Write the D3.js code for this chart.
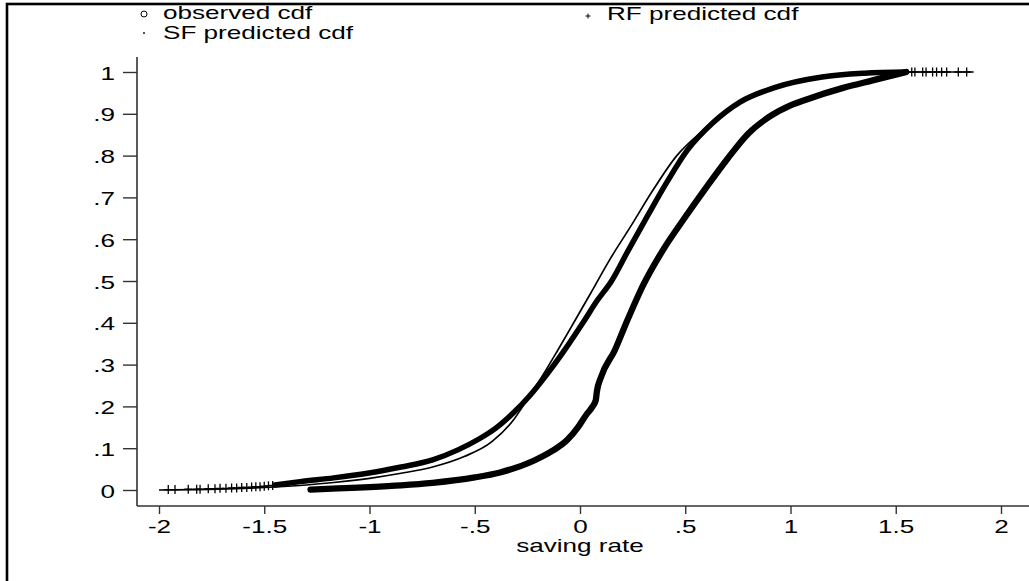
<!DOCTYPE html>
<html>
<head>
<meta charset="utf-8">
<script src="https://cdn.jsdelivr.net/npm/d3@7"></script>
<style>
  html, body { margin: 0; padding: 0; background: #fff; }
  svg { display: block; }
  text { font-family: "Liberation Sans", Arial, sans-serif; fill: #000; }
</style>
</head>
<body>
<svg id="chart" width="1029" height="581"></svg>
<script>
// ---------------- data ----------------
const xTickValues = [-2, -1.5, -1, -0.5, 0, 0.5, 1, 1.5, 2];
const xTickLabels = ["-2", "-1.5", "-1", "-.5", "0", ".5", "1", "1.5", "2"];
const yTickValues = [0, 0.1, 0.2, 0.3, 0.4, 0.5, 0.6, 0.7, 0.8, 0.9, 1];
const yTickLabels = ["0", ".1", ".2", ".3", ".4", ".5", ".6", ".7", ".8", ".9", "1"];
const seriesNames = ["observed cdf", "RF predicted cdf", "SF predicted cdf"];
const xTitle = "saving rate";

// observed cdf (circles)
const obsX = [-1.28, -1.15, -1.0, -0.85, -0.7, -0.5, -0.38, -0.22, -0.13, -0.06, -0.01, 0.03, 0.06, 0.075, 0.08, 0.1, 0.166, 0.22, 0.3, 0.394, 0.5, 0.6, 0.7, 0.8, 0.9, 1.0, 1.08, 1.25, 1.39, 1.55];
const obsY = [0.001, 0.004, 0.007, 0.011, 0.017, 0.03, 0.042, 0.07, 0.094, 0.12, 0.15, 0.18, 0.2, 0.215, 0.235, 0.27, 0.335, 0.4, 0.49, 0.574, 0.653, 0.724, 0.792, 0.853, 0.893, 0.92, 0.935, 0.962, 0.98, 1.0];

// RF predicted cdf (plus) - dense part
const rfX = [-1.45, -1.33, -1.17, -1.01, -0.85, -0.70, -0.58, -0.48, -0.40, -0.32, -0.24, -0.16, -0.08, 0.02, 0.08, 0.15, 0.23, 0.32, 0.41, 0.51, 0.63, 0.76, 0.92, 1.15, 1.35, 1.55];
const rfY = [0.012, 0.02, 0.029, 0.04, 0.055, 0.072, 0.096, 0.122, 0.148, 0.183, 0.225, 0.275, 0.33, 0.405, 0.452, 0.5, 0.574, 0.655, 0.734, 0.813, 0.878, 0.928, 0.962, 0.988, 0.997, 1.0];
// RF predicted cdf - sparse tails
const rfTailX = [-1.956, -1.924, -1.861, -1.821, -1.805, -1.766, -1.734, -1.71, -1.682, -1.655, -1.631, -1.607, -1.583, -1.56, -1.54, -1.52, -1.5, -1.48, -1.46,
                 1.576, 1.591, 1.628, 1.644, 1.675, 1.694, 1.718, 1.742, 1.797, 1.837];
const rfTailY = [0.001, 0.001, 0.002, 0.002, 0.002, 0.003, 0.003, 0.004, 0.004, 0.005, 0.005, 0.006, 0.006, 0.007, 0.008, 0.008, 0.009, 0.01, 0.011,
                 1, 1, 1, 1, 1, 1, 1, 1, 1, 1];

// SF predicted cdf (small dots)
const sfX = [-2.0, -1.6, -1.3, -1.17, -1.0, -0.85, -0.7, -0.55, -0.42, -0.32, -0.24, -0.17, -0.105, -0.03, 0.05, 0.14, 0.24, 0.35, 0.46, 0.55, 0.63, 0.76, 0.92, 1.15, 1.4, 1.6, 1.87];
const sfY = [0.0, 0.004, 0.012, 0.018, 0.028, 0.04, 0.055, 0.08, 0.115, 0.165, 0.225, 0.28, 0.335, 0.4, 0.47, 0.55, 0.63, 0.72, 0.8, 0.845, 0.875, 0.928, 0.962, 0.988, 0.998, 1.0, 1.0];

// ---------------- drawing ----------------
const svg = d3.select("#chart");
const FS = 18, SX = 1.45;          // font size and horizontal stretch of text
const plot = { left: 137, right: 1029, top: 57, bottom: 506 };

const x = d3.scaleLinear().domain([-2, 2]).range([159, 1001]);
const y = d3.scaleLinear().domain([0, 1]).range([490, 72]);

// outer frame
svg.append("rect").attr("x", 7).attr("y", 4).attr("width", 1200).attr("height", 1000)
  .attr("fill", "none").attr("stroke", "#000").attr("stroke-width", 2.6);

// axes
const axisColor = "#333";
const gx = svg.append("g").attr("transform", `translate(0,${plot.bottom})`)
  .call(d3.axisBottom(x).tickValues(xTickValues).tickSize(8).tickSizeOuter(0).tickFormat(() => ""));
gx.select(".domain").remove();
gx.selectAll("line").attr("stroke", axisColor).attr("stroke-width", 1.4);
gx.selectAll(".tick").append("text").attr("text-anchor", "middle")
  .attr("font-size", FS).attr("transform", `translate(0,27) scale(${SX},1)`)
  .text((d, i) => xTickLabels[i]);

const gy = svg.append("g").attr("transform", `translate(${plot.left},0)`)
  .call(d3.axisLeft(y).tickValues(yTickValues).tickSize(14).tickSizeOuter(0).tickFormat(() => ""));
gy.select(".domain").remove();
gy.selectAll("line").attr("stroke", axisColor).attr("stroke-width", 1.4);
gy.selectAll(".tick").append("text").attr("text-anchor", "end")
  .attr("font-size", FS).attr("transform", `translate(-22,7) scale(${SX},1)`)
  .text((d, i) => yTickLabels[i]);

svg.append("line").attr("x1", plot.left).attr("x2", plot.right).attr("y1", plot.bottom).attr("y2", plot.bottom)
  .attr("stroke", axisColor).attr("stroke-width", 1.6);
svg.append("line").attr("x1", plot.left).attr("x2", plot.left).attr("y1", plot.top).attr("y2", plot.bottom)
  .attr("stroke", axisColor).attr("stroke-width", 1.6);

svg.append("text").attr("text-anchor", "middle").attr("font-size", FS)
  .attr("transform", `translate(${(plot.left + plot.right) / 2 - 3},552) scale(${SX},1)`)
  .text(xTitle);

// series
const line = d3.line().x(d => x(d[0])).y(d => y(d[1])).curve(d3.curveMonotoneX);
const zip = (a, b) => a.map((v, i) => [v, b[i]]);

// SF thin line (dots)
svg.append("path").datum(zip(sfX, sfY)).attr("d", line)
  .attr("fill", "none").attr("stroke", "#000").attr("stroke-width", 1.7).attr("stroke-linejoin", "round");

// RF thick band
svg.append("path").datum(zip(rfX, rfY)).attr("d", line)
  .attr("fill", "none").attr("stroke", "#000").attr("stroke-width", 5.5).attr("stroke-linecap", "round").attr("stroke-linejoin", "round");

// RF tail plus markers
const plusPath = (cx, cy, hw, hh) => `M${cx - hw},${cy}H${cx + hw}M${cx},${cy - hh}V${cy + hh}`;
svg.append("g").selectAll("path").data(zip(rfTailX, rfTailY)).join("path")
  .attr("d", d => plusPath(x(d[0]), y(d[1]), 4, 4.5))
  .attr("stroke", "#000").attr("stroke-width", 1.3).attr("fill", "none");

// observed thick band
svg.append("path").datum(zip(obsX, obsY)).attr("d", line)
  .attr("fill", "none").attr("stroke", "#000").attr("stroke-width", 6.3).attr("stroke-linecap", "round").attr("stroke-linejoin", "round");

// legend
const lg = svg.append("g");
lg.append("circle").attr("cx", 144).attr("cy", 14).attr("r", 3).attr("fill", "none").attr("stroke", "#000").attr("stroke-width", 1);
lg.append("text").attr("font-size", FS).attr("transform", `translate(163,19) scale(${SX},1)`).text(seriesNames[0]);
lg.append("path").attr("d", plusPath(588, 16, 2.5, 2.5)).attr("stroke", "#000").attr("stroke-width", 1);
lg.append("text").attr("font-size", FS).attr("transform", `translate(607,20) scale(${SX},1)`).text(seriesNames[1]);
lg.append("circle").attr("cx", 144).attr("cy", 33).attr("r", 0.9).attr("fill", "#000");
lg.append("text").attr("font-size", FS).attr("transform", `translate(163,39) scale(${SX},1)`).text(seriesNames[2]);
</script>
</body>
</html>
